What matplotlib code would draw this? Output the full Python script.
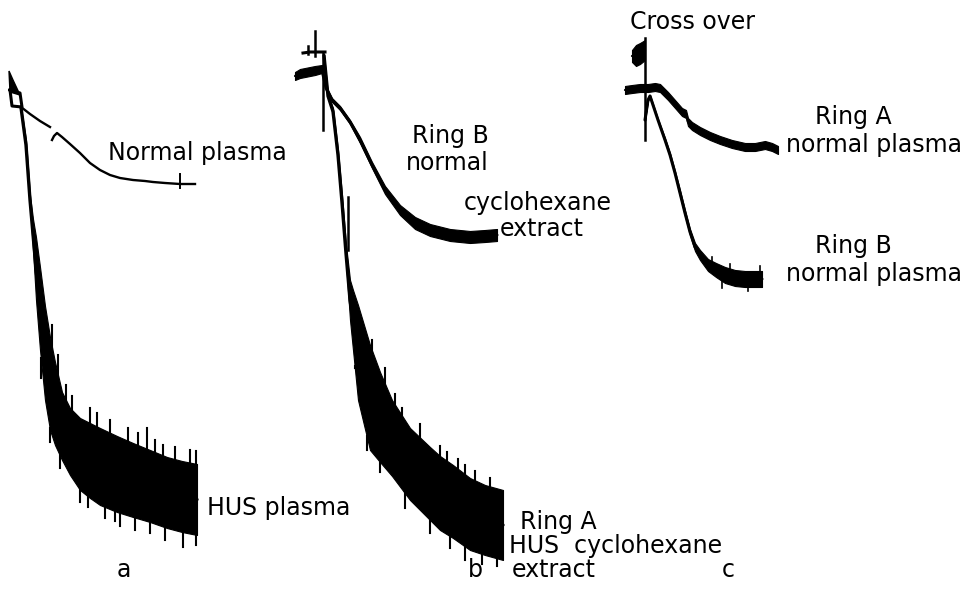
import matplotlib.pyplot as plt
import numpy as np

# Chart-recorder traces.  Units are the scan's own
# (x to the right, y downwards), so the axes are simply 0..964 x 0..606.

# ---- panel a ---------------------------------------------------------------
a_flag_x = [9, 13, 20, 10, 9]
a_flag_y = [71, 80, 95, 92, 71]
a_box_x = [10, 20, 22, 12, 10]
a_box_y = [90, 93, 107, 106, 90]

a_norm1_x = [21, 30, 40, 50]
a_norm1_y = [107, 114, 121, 127]
a_norm2_x = [52, 54, 57, 62, 70, 80, 90, 100, 110, 120, 133, 145, 153, 165, 180, 195]
a_norm2_y = [140, 136, 133, 137, 144, 153, 163, 170, 175, 178, 180, 181, 182, 183, 184, 184]
a_norm_tick = (180, 174, 188)

a_hus_x = [21, 26, 30, 33, 36, 40, 45, 50, 55, 62, 70, 80, 90, 100, 117, 133, 150, 167, 182, 197]
a_hus_up = [107, 140, 195, 219, 237, 267, 306, 337, 362, 392, 408, 418, 423, 428, 436, 443, 450, 457, 461, 464]
a_hus_lo = [108, 150, 205, 250, 300, 350, 400, 430, 445, 460, 475, 490, 498, 505, 512, 517, 522, 528, 532, 535]
# noise spikes: (x, far end); they start on the band
a_hus_spikes = [(52, 325), (58, 355), (66, 385), (72, 396), (90, 408), (97, 413),
                (110, 420), (128, 428), (138, 433), (147, 428), (155, 440), (163, 445),
                (175, 447), (190, 450), (196, 451), (41, 378), (50, 442), (60, 468),
                (80, 502), (88, 507), (105, 518), (115, 521), (120, 526), (135, 530),
                (150, 533), (165, 540), (183, 547), (196, 545)]

# ---- panel b ---------------------------------------------------------------
b_pre_x = [295, 300, 305, 310, 315, 322]
b_pre_up = [72, 69, 68, 67, 66, 65]
b_pre_lo = [80, 78, 77, 76, 75, 73]
b_top_x = [303, 310, 318, 325]
b_top_y = [53, 52, 52, 52]
b_marks = [(315, 31, 56), (323, 53, 130), (308, 46, 54), (348, 197, 250)]

b_ringB_x = [322, 326, 332, 340, 350, 360, 372, 385, 400, 415, 430, 450, 470, 485, 497]
b_ringB_up = [68, 86, 98, 106, 120, 137, 162, 186, 205, 217, 224, 229, 231, 230, 229]
b_ringB_lo = [72, 90, 102, 110, 124, 143, 168, 194, 215, 229, 236, 241, 243, 242, 241]

b_ringA_x = [324, 328, 333, 338, 342, 346, 350, 353, 358, 364, 370, 380, 392, 410, 430, 440, 453, 470, 485, 503]
b_ringA_up = [54, 95, 108, 150, 195, 245, 280, 290, 305, 325, 345, 372, 400, 428, 447, 456, 465, 478, 485, 490]
b_ringA_lo = [57, 97, 115, 160, 210, 262, 320, 350, 400, 425, 450, 462, 476, 500, 520, 530, 538, 550, 555, 560]
b_ringA_spikes = [(372, 340), (385, 368), (395, 394), (420, 424), (440, 446), (458, 459),
                  (475, 471), (490, 478), (355, 366), (367, 450), (380, 472), (405, 508),
                  (430, 533), (450, 548), (465, 560), (482, 564), (497, 566), (402, 408),
                  (447, 452), (465, 465)]

# ---- panel c ---------------------------------------------------------------
c_cross = (645, 38, 140)
c_blob_x = [632, 636, 640, 645]
c_blob_up = [50, 45, 43, 40]
c_blob_lo = [62, 66, 64, 60]

c_ringA_x = [625, 632, 640, 648, 655, 660, 668, 675, 682, 686, 688, 692, 700, 710, 720, 732, 745, 755, 765, 772, 778]
c_ringA_up = [86, 85, 84, 84, 83, 84, 92, 100, 108, 110, 118, 122, 127, 132, 136, 140, 143, 143, 141, 143, 146]
c_ringA_lo = [94, 93, 92, 92, 91, 92, 100, 108, 116, 118, 126, 130, 135, 140, 144, 148, 151, 151, 149, 151, 154]

c_ringB_x = [645, 648, 650, 653, 658, 665, 670, 675, 680, 685, 690, 695, 700, 708, 716, 725, 735, 745, 755, 762]
c_ringB_up = [119, 99, 95, 104, 119, 138, 153, 171, 190, 210, 229, 243, 250, 259, 263, 267, 270, 271, 271, 271]
c_ringB_lo = [121, 101, 97, 106, 121, 142, 157, 175, 196, 216, 235, 251, 260, 271, 277, 283, 286, 287, 287, 287]
c_ringB_spikes = [(712, 257), (730, 264), (748, 291), (760, 266), (722, 288)]

# ---- labels: (text, left x, baseline y) -----------------------------------
labels = [
    ("Normal plasma", 108, 160),
    ("HUS plasma", 207, 515),
    ("a", 117, 577),
    ("Ring B", 412, 143),
    ("normal", 406, 170),
    ("cyclohexane", 464, 210),
    ("extract", 500, 236),
    ("Ring A", 520, 529),
    ("HUS  cyclohexane", 509, 553),
    ("extract", 512, 577),
    ("b", 468, 577),
    ("Cross over", 630, 29),
    ("Ring A", 815, 124),
    ("normal plasma", 786, 152),
    ("Ring B", 815, 253),
    ("normal plasma", 786, 281),
    ("c", 722, 577),
]


def trace(ax, x, up, lo, lw=1.6):
    mid = [(u + l) / 2 for u, l in zip(up, lo)]
    ax.fill_between(x, up, lo, color="black", lw=0.8)
    ax.plot(x, mid, color="black", lw=lw, solid_capstyle="round")


def marks(ax, segs, lw=1.2):
    for x, y0, y1 in segs:
        ax.plot([x, x], [y0, y1], color="black", lw=lw)


def noise(ax, x, up, lo, spk, lw=1.5):
    # each spike leaves the band edge nearest to its far end
    for sx, end in spk:
        u = np.interp(sx, x, up)
        l = np.interp(sx, x, lo)
        start = u + 2 if end < u else l - 2
        ax.plot([sx, sx], [start, end], color="black", lw=lw)


fig = plt.figure(figsize=(9.64, 6.06), dpi=100)
ax = fig.add_axes([0, 0, 1, 1])
ax.set_xlim(0, 964)
ax.set_ylim(606, 0)
ax.axis("off")

# a
ax.fill(a_flag_x, a_flag_y, color="black")
ax.plot(a_box_x, a_box_y, color="black", lw=2.2)
ax.plot(a_norm1_x, a_norm1_y, color="black", lw=1.7)
ax.plot(a_norm2_x, a_norm2_y, color="black", lw=1.7)
marks(ax, [a_norm_tick], lw=1.4)
trace(ax, a_hus_x, a_hus_up, a_hus_lo, lw=2.4)
noise(ax, a_hus_x, a_hus_up, a_hus_lo, a_hus_spikes)

# b
trace(ax, b_pre_x, b_pre_up, b_pre_lo)
ax.plot(b_top_x, b_top_y, color="black", lw=2.2)
marks(ax, b_marks, lw=1.8)
trace(ax, b_ringB_x, b_ringB_up, b_ringB_lo, lw=2.2)
trace(ax, b_ringA_x, b_ringA_up, b_ringA_lo, lw=2.4)
noise(ax, b_ringA_x, b_ringA_up, b_ringA_lo, b_ringA_spikes)

# c
marks(ax, [c_cross], lw=1.8)
trace(ax, c_blob_x, c_blob_up, c_blob_lo)
trace(ax, c_ringA_x, c_ringA_up, c_ringA_lo)
trace(ax, c_ringB_x, c_ringB_up, c_ringB_lo, lw=2.2)
noise(ax, c_ringB_x, c_ringB_up, c_ringB_lo, c_ringB_spikes, lw=1.2)

for txt, x, y in labels:
    ax.text(x, y, txt, fontsize=17, ha="left", va="baseline", color="black")

fig.savefig("out.png", dpi=100)
